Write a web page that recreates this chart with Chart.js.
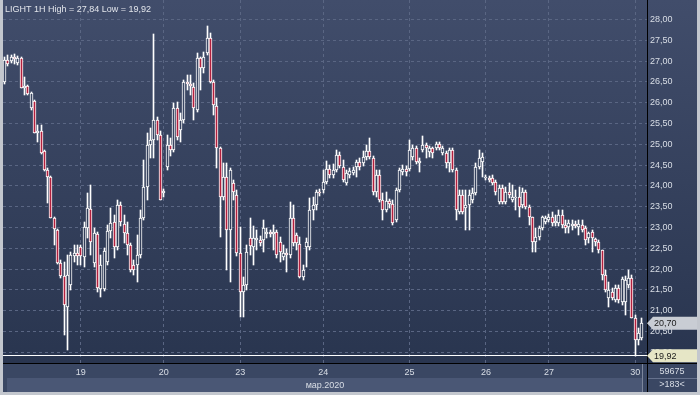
<!DOCTYPE html>
<html>
<head>
<meta charset="utf-8">
<script src="https://cdn.jsdelivr.net/npm/chart.js@4.4.1/dist/chart.umd.min.js"></script>
<style>
  html, body { margin: 0; padding: 0; background: #c3c7ce; }
</style>
</head>
<body>
<canvas id="chart" width="700" height="395"></canvas>
<script>
// LIGHT 1H, candles
const open = [
  26.50, 27.03, 27.00, 27.10, 26.95, 27.08, 26.35, 26.40, 25.87, 26.04,
  25.27, 25.32, 24.84, 24.38, 24.21, 23.23, 22.94, 22.15, 21.83, 21.09,
  21.62, 22.32, 22.39, 22.53, 22.29, 22.99, 23.45, 22.15, 22.84, 21.52,
  21.52, 22.17, 22.92, 23.13, 22.53, 23.54, 23.08, 22.87, 22.58, 22.10,
  22.10, 22.34, 23.23, 23.97, 24.98, 25.10, 25.58, 25.22, 23.83, 24.45,
  24.98, 24.86, 25.87, 25.34, 25.58, 26.50, 26.45, 26.38, 25.83, 27.08,
  26.83, 27.19, 27.56, 26.50, 25.92, 24.91, 23.73, 24.21, 22.94, 24.07,
  23.78, 22.39, 21.45, 21.62, 22.75, 22.53, 22.70, 22.70, 22.70, 22.84,
  22.89, 22.84, 22.89, 22.65, 22.29, 22.39, 22.34, 23.23, 22.82, 22.60,
  21.81, 22.53, 22.53, 23.42, 23.54, 23.85, 23.90, 24.09, 24.41, 24.26,
  24.38, 24.74, 24.45, 24.07, 24.26, 24.31, 24.45, 24.58, 24.55, 24.70,
  24.84, 24.67, 23.85, 24.26, 23.66, 23.42, 23.64, 23.57, 23.18, 23.90,
  24.33, 24.41, 24.41, 24.70, 24.91, 24.55, 24.86, 24.98, 24.82, 24.91,
  24.91, 25.01, 24.79, 24.79, 24.55, 24.86, 24.38, 23.37, 23.78, 23.47,
  23.54, 23.66, 23.83, 24.45, 24.58, 24.19, 24.19, 24.19, 24.09, 23.61,
  23.95, 23.61, 23.85, 23.66, 23.71, 23.73, 23.54, 23.85, 23.49, 23.25,
  22.65, 22.77, 22.99, 23.13, 23.18, 23.25, 23.11, 23.11, 23.30, 23.06,
  23.01, 23.04, 23.08, 23.01, 23.06, 22.99, 22.75, 22.89, 22.72, 22.65,
  22.46, 21.86, 21.31, 21.45, 21.26, 21.55, 21.21, 21.21, 21.62, 21.79,
  20.83, 20.30, 20.34
];
const high = [
  27.10, 27.15, 27.15, 27.17, 27.12, 27.10, 26.62, 26.43, 26.26, 26.07,
  25.46, 25.46, 24.86, 24.43, 24.24, 23.25, 22.96, 22.22, 22.17, 22.34,
  22.41, 22.58, 22.58, 22.58, 23.13, 23.83, 24.02, 22.99, 22.89, 22.34,
  22.51, 23.06, 23.47, 23.30, 23.66, 23.61, 23.30, 23.13, 22.63, 22.22,
  22.82, 23.42, 24.62, 25.27, 25.39, 27.65, 25.66, 25.32, 23.93, 25.22,
  25.15, 25.99, 26.02, 25.75, 26.55, 26.67, 26.67, 26.47, 27.19, 27.10,
  27.22, 27.84, 27.68, 26.55, 26.11, 24.94, 24.55, 24.55, 24.43, 24.14,
  23.90, 23.01, 21.81, 22.58, 23.23, 23.04, 22.94, 22.80, 23.18, 22.99,
  22.94, 23.06, 22.94, 22.77, 22.58, 22.48, 23.61, 23.54, 22.87, 22.77,
  22.10, 22.75, 23.71, 23.73, 23.90, 23.93, 24.38, 24.60, 24.50, 24.53,
  24.86, 24.82, 24.62, 24.38, 24.43, 24.45, 24.62, 24.67, 24.84, 24.98,
  25.15, 24.72, 24.38, 24.38, 23.83, 23.85, 23.69, 23.66, 23.95, 24.43,
  24.50, 24.48, 25.10, 24.98, 24.96, 24.67, 25.20, 25.03, 24.96, 24.94,
  25.06, 25.06, 24.96, 24.84, 24.91, 24.91, 24.43, 23.90, 23.90, 23.90,
  23.90, 23.95, 24.55, 24.86, 24.79, 24.26, 24.24, 24.26, 24.14, 24.02,
  24.02, 23.97, 24.07, 24.02, 23.90, 23.97, 23.95, 23.90, 23.54, 23.25,
  22.99, 23.04, 23.28, 23.28, 23.33, 23.37, 23.30, 23.42, 23.42, 23.18,
  23.18, 23.18, 23.16, 23.18, 23.18, 23.04, 22.89, 22.94, 22.75, 22.70,
  22.46, 21.98, 21.69, 21.55, 21.62, 21.62, 21.81, 21.83, 21.98, 21.86,
  20.90, 20.59, 20.83
];
const low = [
  26.45, 26.88, 26.95, 26.93, 26.91, 26.35, 26.19, 26.19, 25.83, 25.27,
  25.06, 24.77, 24.36, 23.59, 23.23, 22.58, 22.12, 21.79, 20.42, 20.06,
  21.50, 22.17, 22.10, 22.10, 22.05, 22.75, 22.34, 22.05, 21.45, 21.33,
  21.47, 22.10, 22.75, 22.27, 22.46, 23.04, 22.63, 22.34, 21.93, 21.86,
  21.69, 22.27, 23.18, 23.66, 24.67, 24.67, 25.10, 23.66, 23.73, 24.38,
  24.72, 24.82, 25.10, 25.06, 25.51, 26.31, 26.19, 25.58, 25.78, 26.31,
  26.71, 27.15, 26.47, 25.71, 24.43, 22.77, 23.66, 21.98, 21.69, 23.66,
  22.32, 20.85, 20.85, 21.50, 22.34, 22.10, 22.46, 22.56, 22.41, 22.75,
  22.77, 22.46, 22.27, 22.17, 22.22, 21.93, 22.27, 22.56, 22.46, 21.79,
  21.74, 22.05, 22.46, 23.18, 23.42, 23.76, 23.83, 24.05, 24.19, 24.19,
  24.33, 24.43, 24.09, 24.02, 24.19, 24.26, 24.21, 24.38, 24.48, 24.62,
  24.65, 23.78, 23.73, 23.61, 23.18, 23.37, 23.47, 23.06, 23.13, 23.85,
  24.26, 24.24, 24.36, 24.62, 24.53, 24.33, 24.82, 24.67, 24.70, 24.67,
  24.86, 24.86, 24.74, 24.43, 24.33, 24.33, 23.18, 23.33, 23.33, 22.94,
  22.94, 23.59, 23.78, 24.41, 24.21, 24.14, 24.09, 24.02, 23.78, 23.57,
  23.57, 23.57, 23.71, 23.61, 23.42, 23.25, 23.47, 23.45, 23.06, 22.41,
  22.41, 22.70, 22.94, 23.08, 23.13, 23.04, 23.04, 23.04, 22.99, 22.87,
  22.87, 22.94, 22.99, 22.82, 22.89, 22.58, 22.63, 22.41, 22.56, 22.39,
  21.74, 21.45, 21.09, 21.26, 21.21, 21.19, 21.14, 20.90, 21.55, 20.83,
  19.92, 20.18, 20.30
];
const close = [
  27.03, 26.93, 27.10, 27.05, 27.08, 26.35, 26.40, 26.21, 26.23, 25.27,
  25.32, 24.79, 24.38, 24.21, 23.23, 22.96, 22.15, 21.83, 21.14, 21.86,
  22.34, 22.39, 22.32, 22.32, 23.01, 23.47, 22.65, 22.87, 21.55, 22.10,
  22.44, 22.92, 23.11, 22.53, 23.54, 23.13, 22.87, 22.58, 21.98, 21.98,
  22.34, 23.23, 23.97, 24.98, 25.10, 25.58, 25.22, 23.66, 23.88, 24.98,
  24.86, 25.87, 25.18, 25.58, 26.50, 26.45, 26.40, 25.87, 27.08, 26.83,
  27.10, 27.56, 26.50, 25.95, 24.91, 23.73, 24.21, 22.94, 24.38, 23.85,
  22.39, 21.45, 21.62, 22.41, 22.56, 22.75, 22.75, 22.63, 22.99, 22.89,
  22.84, 22.89, 22.34, 22.41, 22.39, 22.34, 23.23, 22.63, 22.63, 21.81,
  21.98, 22.65, 23.42, 23.54, 23.85, 23.83, 24.09, 24.41, 24.26, 24.38,
  24.74, 24.48, 24.14, 24.31, 24.36, 24.38, 24.58, 24.45, 24.70, 24.84,
  24.70, 23.85, 24.26, 23.66, 23.42, 23.64, 23.57, 23.11, 23.90, 24.38,
  24.41, 24.33, 24.86, 24.91, 24.58, 24.60, 24.98, 24.91, 24.91, 24.79,
  25.01, 24.91, 24.91, 24.55, 24.86, 24.38, 23.42, 23.78, 23.37, 23.54,
  23.78, 23.83, 24.45, 24.67, 24.70, 24.21, 24.14, 24.07, 23.85, 23.95,
  23.61, 23.85, 23.78, 23.73, 23.73, 23.49, 23.85, 23.49, 23.25, 22.65,
  22.77, 22.99, 23.25, 23.23, 23.25, 23.11, 23.16, 23.30, 23.06, 22.99,
  23.11, 23.08, 23.04, 23.08, 22.94, 22.70, 22.87, 22.75, 22.65, 22.46,
  21.86, 21.50, 21.50, 21.31, 21.55, 21.26, 21.76, 21.74, 21.79, 20.83,
  20.30, 20.46, 20.70
];

// first candle of each trading day, and its label
const dayStart = [23, 48, 71, 96, 122, 145, 164, 190];
const dayLabels = ["19", "20", "23", "24", "25", "26", "27", "30"];
const priceTicks = [20, 20.5, 21, 21.5, 22, 22.5, 23, 23.5, 24, 24.5, 25, 25.5, 26, 26.5, 27, 27.5, 28];
const monthLabel = "мар.2020";
const titleText = "LIGHT 1H High = 27,84 Low = 19,92";
const lastPrice = 20.70;
const lowPrice = 19.92;
const volumeText = "59675";
const barsText = ">183<";

const FONT = "'Liberation Sans', Arial, sans-serif";
const TEXT = "#d9dee6";
const GRID = "#5a6683";
const RED = "#b2203e";

Chart.defaults.font.family = FONT;
Chart.defaults.font.size = 9;

const canvas = document.getElementById("chart");
const ctx = canvas.getContext("2d");
const plotFill = ctx.createLinearGradient(0, 0, 0, 363);
plotFill.addColorStop(0, "#414d6b");
plotFill.addColorStop(1, "#29354f");

const fmt = (v) => v.toFixed(2).replace(".", ",");

// keep candles on whole pixels so the white outlines stay sharp
const snap = {
  id: "snap",
  beforeDatasetsDraw(chart) {
    chart.getSortedVisibleDatasetMetas().forEach((meta) => {
      meta.data.forEach((el) => {
        el.x = Math.round(el.x - 0.5) + 0.5;
        el.y = Math.round(el.y);
        el.base = Math.round(el.base);
        if (Math.abs(el.base - el.y) < 1) el.base = el.y + 1;
      });
    });
  },
};

function priceBox(c, y, fill, text) {
  c.beginPath();
  c.moveTo(647, y);
  c.lineTo(653, y - 6.5);
  c.lineTo(697, y - 6.5);
  c.lineTo(697, y + 6.5);
  c.lineTo(653, y + 6.5);
  c.closePath();
  c.fillStyle = fill;
  c.fill();
  c.fillStyle = "#1a1a1a";
  c.textAlign = "left";
  c.textBaseline = "middle";
  c.fillText(text, 654, y + 0.5);
}

const decor = {
  id: "decor",
  beforeDraw(chart) {
    const c = chart.ctx;
    c.save();
    c.fillStyle = "#c3c7ce";
    c.fillRect(0, 0, 700, 395);
    c.fillStyle = plotFill;
    c.fillRect(3, 0, 694, 363);
    c.fillStyle = "#3a4763";
    c.fillRect(3, 363, 694, 29);
    c.fillStyle = "#4a5775";
    c.fillRect(7, 378, 635, 14);
    c.fillStyle = "#7c869c";
    c.fillRect(642, 364, 1, 28);
    c.fillStyle = "#66728d";
    c.fillRect(648, 378, 49, 1);
    c.restore();
  },
  beforeDatasetsDraw(chart) {
    const c = chart.ctx;
    const a = chart.chartArea;
    const y = Math.round(chart.scales.y.getPixelForValue(lowPrice) - 0.5);
    c.save();
    c.fillStyle = "#ffffff";
    c.fillRect(a.left, y, a.right - a.left, 1);
    c.restore();
  },
  afterDraw(chart) {
    const c = chart.ctx;
    const ys = chart.scales.y;
    c.save();
    c.fillStyle = "#000000";
    c.fillRect(3, 363, 694, 1);
    c.fillRect(647, 0, 1, 392);
    c.font = "9px " + FONT;
    priceBox(c, ys.getPixelForValue(lastPrice), "#c9cdd4", fmt(lastPrice));
    priceBox(c, ys.getPixelForValue(lowPrice), "#e6e6c6", fmt(lowPrice));
    c.fillStyle = "#e2e5eb";
    c.textAlign = "left";
    c.textBaseline = "middle";
    c.fillText(titleText, 5, 9.5);
    c.fillStyle = TEXT;
    c.textAlign = "center";
    c.fillText(volumeText, 672, 372);
    c.fillText(barsText, 672, 385);
    c.restore();
  },
};

new Chart(ctx, {
  type: "bar",
  data: {
    datasets: [
      {
        label: "body",
        data: open.map((o, i) => ({ x: i, y: [o, close[i]] })),
        backgroundColor: (c) => {
          const i = c.dataIndex;
          if (i === undefined) return plotFill;
          return close[i] < open[i] ? RED : plotFill;
        },
        borderColor: "#ffffff",
        borderWidth: 1,
        borderSkipped: false,
        barThickness: 3,
        grouped: false,
        order: 0,
      },
      {
        label: "wick",
        data: low.map((l, i) => ({ x: i, y: [l, high[i]] })),
        backgroundColor: "#ffffff",
        borderWidth: 0,
        barThickness: 1,
        grouped: false,
        order: 1,
      },
    ],
  },
  options: {
    responsive: false,
    animation: false,
    events: [],
    layout: { padding: { left: 3, right: 3, top: 0, bottom: 3 } },
    plugins: {
      legend: { display: false },
      tooltip: { enabled: false },
    },
    scales: {
      x: {
        type: "linear",
        min: -0.45,
        max: 193.53,
        offset: false,
        grid: { offset: false, color: GRID, lineWidth: 1, drawTicks: false },
        border: { display: false, dash: [3, 3] },
        afterBuildTicks: (s) => {
          s.ticks = dayStart.map((v) => ({ value: v }));
        },
        afterFit: (s) => {
          s.height = 29;
          s.paddingLeft = 0;
          s.paddingRight = 0;
        },
        ticks: {
          autoSkip: false,
          maxRotation: 0,
          padding: 4,
          color: TEXT,
          callback: (v) => dayLabels[dayStart.indexOf(v)],
        },
        title: {
          display: true,
          text: monthLabel,
          color: TEXT,
          padding: { top: 0, bottom: 1 },
        },
      },
      y: {
        position: "right",
        min: 19.743,
        max: 28.469,
        grid: { color: GRID, lineWidth: 1, drawTicks: false },
        border: { display: false, dash: [3, 3] },
        afterBuildTicks: (s) => {
          s.ticks = priceTicks.map((v) => ({ value: v }));
        },
        afterFit: (s) => {
          s.width = 50;
          s.paddingTop = 0;
          s.paddingBottom = 0;
        },
        ticks: {
          padding: 3,
          color: TEXT,
          callback: (v) => fmt(v),
        },
      },
    },
  },
  plugins: [decor, snap],
});
</script>
</body>
</html>
